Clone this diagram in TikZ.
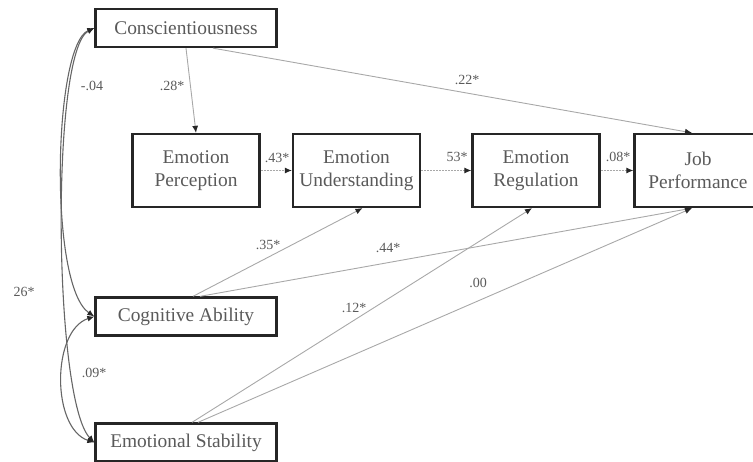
\documentclass[tikz,border=0pt]{standalone}
\usepackage{fontspec}
\setmainfont{Liberation Serif}
\usetikzlibrary{arrows.meta,positioning,calc,shadows}
\definecolor{txtgray}{HTML}{5A5A5A}
\definecolor{linegray}{HTML}{A8A8A8}
\definecolor{boxline}{HTML}{262626}
\tikzset{
  var/.style={draw=boxline, line width=2.3pt, fill=white, align=center, text=txtgray, font=\fontsize{19.4}{23}\selectfont, inner sep=2pt, drop shadow={shadow xshift=1.2pt, shadow yshift=-1.2pt, fill=black, opacity=.5}},
  trait/.style={var, minimum width=181pt, minimum height=38pt},
  ei/.style={var, minimum width=127pt, minimum height=73pt},
  lbl/.style={text=txtgray, font=\fontsize{14}{16}\selectfont, inner sep=0pt},
  arr/.style={-{Latex[length=7pt,width=6pt,color=boxline]}, line width=0.9pt, color=linegray},
  seq/.style={arr, dash pattern=on 2pt off 1pt},
  cov/.style={{Latex[length=7pt,width=6pt,color=boxline]}-{Latex[length=7pt,width=6pt,color=boxline]}, line width=1.1pt, color=black!60},
}

\begin{document}
\begin{tikzpicture}[x=1pt, y=-1pt]
    \useasboundingbox (0,0) rectangle (753,462);
    % predictors
    \node[trait] (C) at (186,28) {Conscientiousness};
    \node[trait] (CA) at (186,316.5) {Cognitive Ability};
    \node[trait] (ES) at (186,442.5) {Emotional Stability};
    % emotional intelligence cascade
    \node[ei] (EP) at (196,170.5) {Emotion\\Perception};
    \node[ei] (EU) at (356.5,170.5) {Emotion\\Understanding};
    \node[ei] (ER) at (536,170.5) {Emotion\\Regulation};
    \node[ei] (JP) at (698,170.5) {Job\\Performance};
    % paths
    \draw[arr] (C.south) -- (EP.north);
    \draw[arr] ([xshift=27pt]C.south) -- ([xshift=-6pt]JP.north);
    \draw[seq] (EP) -- (EU); \draw[seq] (EU) -- (ER); \draw[seq] (ER) -- (JP);
    \draw[arr] ([xshift=7pt]CA.north) -- ([xshift=6pt]EU.south);
    \draw[arr] ([xshift=14pt]CA.north) -- ([xshift=-6pt]JP.south);
    \draw[arr] ([xshift=6pt]ES.north) -- ([xshift=-4pt]ER.south);
    \draw[arr] ([xshift=12pt]ES.north) -- ([xshift=-6pt]JP.south);
    % correlations
    \draw[cov] (C.west) .. controls +(-41,17) and +(-46,-31) .. (CA.west);
    \draw[cov] (C.west) .. controls +(-44,22) and +(-41,-42) .. (ES.west);
    \draw[cov] (CA.west) .. controls +(-43,14) and +(-43,-14) .. (ES.west);
    % coefficients
    \node[lbl] (l04) at (92,86) {-.04};
    \node[lbl] (l28) at (172,86) {.28*};
    \node[lbl] (l22) at (467,80) {.22*};
    \node[lbl] (l43) at (277,158) {.43*};
    \node[lbl] (l53) at (457,157) {53*};
    \node[lbl] (l08) at (618,157) {.08*};
    \node[lbl] (l35) at (268,245) {.35*};
    \node[lbl] (l44) at (388,248) {.44*};
    \node[lbl] (l12) at (354,308) {.12*};
    \node[lbl] (l00) at (478,283) {.00};
    \node[lbl] (l26) at (24,292) {26*};
    \node[lbl] (l09) at (94,373) {.09*};
\end{tikzpicture}
\end{document}
